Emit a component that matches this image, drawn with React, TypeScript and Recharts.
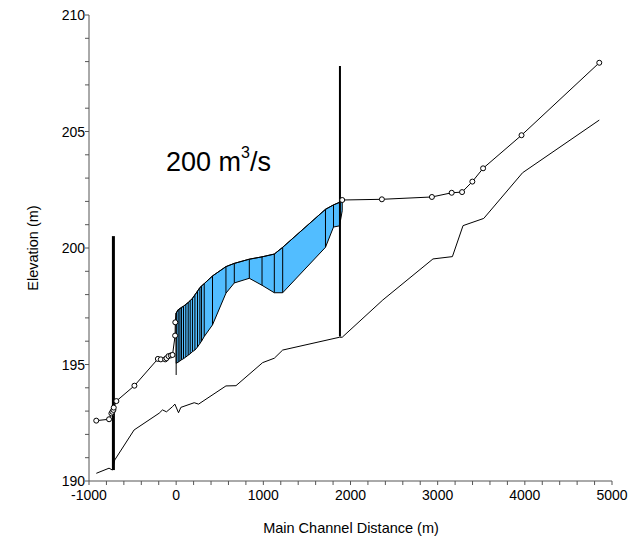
import React from 'react';
import { ComposedChart, XAxis, YAxis, Line, Area, Scatter, ReferenceLine } from 'recharts';

const FONT = '"Liberation Sans", Arial, sans-serif';

// Water surface profile upstream of the band (line)
const wsLeft = [
  { x: -917, y: 192.59 }, { x: -770, y: 192.65 }, { x: -743, y: 192.9 }, { x: -732, y: 192.97 },
  { x: -720, y: 193.05 }, { x: -716, y: 193.15 }, { x: -686, y: 193.43 }, { x: -479, y: 194.09 },
  { x: -210, y: 195.24 }, { x: -176, y: 195.22 }, { x: -126, y: 195.22 }, { x: -111, y: 195.27 },
  { x: -88, y: 195.36 }, { x: -61, y: 195.39 }, { x: -42, y: 195.41 }, { x: -12, y: 196.24 },
  { x: -10, y: 196.81 },
];
// Water surface profile downstream of the band (line)
const wsRight = [
  { x: 2360, y: 202.09 }, { x: 2934, y: 202.19 }, { x: 3161, y: 202.37 },
  { x: 3280, y: 202.4 }, { x: 3398, y: 202.85 }, { x: 3521, y: 203.42 }, { x: 3962, y: 204.84 },
  { x: 4854, y: 207.95 },
];

// Stations marked with circles
const wsMarkers = [
  { x: -917, y: 192.59 }, { x: -770, y: 192.65 }, { x: -743, y: 192.9 }, { x: -732, y: 192.97 },
  { x: -720, y: 193.05 }, { x: -716, y: 193.15 }, { x: -686, y: 193.43 }, { x: -479, y: 194.09 },
  { x: -210, y: 195.24 }, { x: -176, y: 195.22 }, { x: -126, y: 195.22 }, { x: -111, y: 195.27 },
  { x: -88, y: 195.36 }, { x: -61, y: 195.39 }, { x: -42, y: 195.41 }, { x: -12, y: 196.24 },
  { x: -10, y: 196.81 }, { x: 1905, y: 202.06 }, { x: 2360, y: 202.09 }, { x: 2934, y: 202.19 },
  { x: 3161, y: 202.37 }, { x: 3280, y: 202.4 }, { x: 3398, y: 202.85 }, { x: 3521, y: 203.42 },
  { x: 3962, y: 204.84 }, { x: 4854, y: 207.95 },
];

// Channel bed (thalweg)
const ground = [
  { x: -916, y: 190.33 }, { x: -770, y: 190.55 }, { x: -732, y: 190.47 }, { x: -705, y: 190.9 },
  { x: -483, y: 192.19 }, { x: -195, y: 192.91 }, { x: -157, y: 193.05 }, { x: -111, y: 192.97 },
  { x: -42, y: 193.19 }, { x: -15, y: 193.3 }, { x: 27, y: 192.93 }, { x: 54, y: 193.16 },
  { x: 207, y: 193.36 }, { x: 257, y: 193.3 }, { x: 571, y: 194.08 }, { x: 686, y: 194.09 },
  { x: 992, y: 195.08 }, { x: 1126, y: 195.27 }, { x: 1222, y: 195.62 }, { x: 1874, y: 196.17 },
  { x: 1905, y: 196.17 }, { x: 2371, y: 197.77 }, { x: 2946, y: 199.53 }, { x: 3169, y: 199.63 },
  { x: 3291, y: 200.96 }, { x: 3529, y: 201.27 }, { x: 3974, y: 203.23 }, { x: 4854, y: 205.49 },
];

// Blue band stations: x, low, high
const bandX = [0, 23, 43, 61, 84, 111, 138, 161, 187, 215, 245, 272, 291, 322, 417, 571, 667, 839, 985, 1126, 1222, 1713, 1805, 1874, 1905];
const bandLow = [195.05, 195.1, 195.15, 195.2, 195.25, 195.32, 195.4, 195.46, 195.55, 195.62, 195.75, 195.9, 196.0, 196.2, 196.7, 198.06, 198.5, 198.7, 198.4, 198.08, 198.08, 200.03, 200.9, 200.95, 201.6];
const bandHigh = [197.21, 197.35, 197.4, 197.45, 197.5, 197.58, 197.66, 197.74, 197.84, 197.99, 198.15, 198.3, 198.37, 198.47, 198.8, 199.2, 199.34, 199.52, 199.62, 199.74, 200.03, 201.66, 201.85, 201.96, 202.06];

// Structures (vertical lines): x, bottom, top, width
const structX = [-720, 1879, 0];
const structLow = [190.47, 196.2, 194.55];
const structHigh = [200.51, 207.81, 197.21];
const structW = [3, 2, 1];

const xTicks: number[] = [];
for (let v = -1000; v <= 5000; v += 200) xTicks.push(v);
const yTicks: number[] = [];
for (let v = 190; v <= 210; v += 1) yTicks.push(v);

const bandData = bandX.map((x, i) => ({ x, range: [bandLow[i], bandHigh[i]] }));
const waterSurface = [
  ...wsLeft,
  ...bandX.map((x, i) => ({ x, y: bandHigh[i] })),
  ...wsRight,
];

const XTick = (props: any) => {
  const { x, y, payload } = props;
  if (payload.value % 1000 !== 0) return <g />;
  return (
    <text x={x} y={y} dy={13} textAnchor="middle" fontSize={14} fill="#000" fontFamily={FONT}>
      {payload.value}
    </text>
  );
};

const YTick = (props: any) => {
  const { x, y, payload } = props;
  if (payload.value % 5 !== 0) return <g />;
  return (
    <text x={x + 1} y={y} dy={5} textAnchor="end" fontSize={14} fill="#000" fontFamily={FONT}>
      {payload.value}
    </text>
  );
};

const Circle = (props: any) => {
  const { cx, cy } = props;
  return <circle cx={cx} cy={cy} r={2.5} fill="#fff" stroke="#000" strokeWidth={1} />;
};

export default function App() {
  return (
    <div style={{ position: 'absolute', left: 0, top: 0, width: 631, height: 542, background: '#fff' }}>
      <ComposedChart width={631} height={542} margin={{ top: 15, right: 19, bottom: 31, left: 29 }}>
        <XAxis
          dataKey="x"
          type="number"
          domain={[-1000, 5000]}
          ticks={xTicks}
          interval={0}
          tick={<XTick />}
          tickSize={4}
          tickMargin={2}
          stroke="#555"
          height={30}
          allowDataOverflow
        />
        <YAxis
          type="number"
          domain={[190, 210]}
          ticks={yTicks}
          interval={0}
          tick={<YTick />}
          tickSize={4}
          tickMargin={1}
          stroke="#555"
          width={60}
          allowDataOverflow
        />
        <Area
          data={bandData}
          dataKey="range"
          type="linear"
          fill="#52BDFF"
          fillOpacity={1}
          stroke="#000"
          strokeWidth={1}
          isAnimationActive={false}
          dot={false}
          activeDot={false}
        />
        {bandX.map((x, i) => (
          <ReferenceLine
            key={'b' + i}
            segment={[{ x, y: bandLow[i] }, { x, y: bandHigh[i] }]}
            stroke="#000"
            strokeWidth={1}
          />
        ))}
        <Line
          data={ground}
          dataKey="y"
          type="linear"
          stroke="#000"
          strokeWidth={1}
          dot={false}
          activeDot={false}
          isAnimationActive={false}
        />
        <Line
          data={waterSurface}
          dataKey="y"
          type="linear"
          stroke="#000"
          strokeWidth={1}
          dot={false}
          activeDot={false}
          isAnimationActive={false}
        />
        <Scatter data={wsMarkers} dataKey="y" shape={<Circle />} isAnimationActive={false} />
        {structX.map((x, i) => (
          <ReferenceLine
            key={'s' + i}
            segment={[{ x, y: structLow[i] }, { x, y: structHigh[i] }]}
            stroke="#000"
            strokeWidth={structW[i]}
          />
        ))}
      </ComposedChart>
      <div style={{ position: 'absolute', left: 166, top: 147, fontFamily: FONT, fontSize: 27, color: '#000', whiteSpace: 'nowrap' }}>
        200 m<sup style={{ fontSize: 16, verticalAlign: 'top', position: 'relative', top: -3 }}>3</sup>/s
      </div>
      <div style={{ position: 'absolute', left: 0, width: 702, top: 520, textAlign: 'center', fontFamily: FONT, fontSize: 14.5, color: '#000' }}>
        Main Channel Distance (m)
      </div>
      <div style={{ position: 'absolute', left: 33, top: 248, width: 0, height: 0 }}>
        <div style={{ position: 'absolute', transform: 'translate(-50%, -50%) rotate(-90deg)', fontFamily: FONT, fontSize: 14.5, color: '#000', whiteSpace: 'nowrap' }}>
          Elevation (m)
        </div>
      </div>
    </div>
  );
}
